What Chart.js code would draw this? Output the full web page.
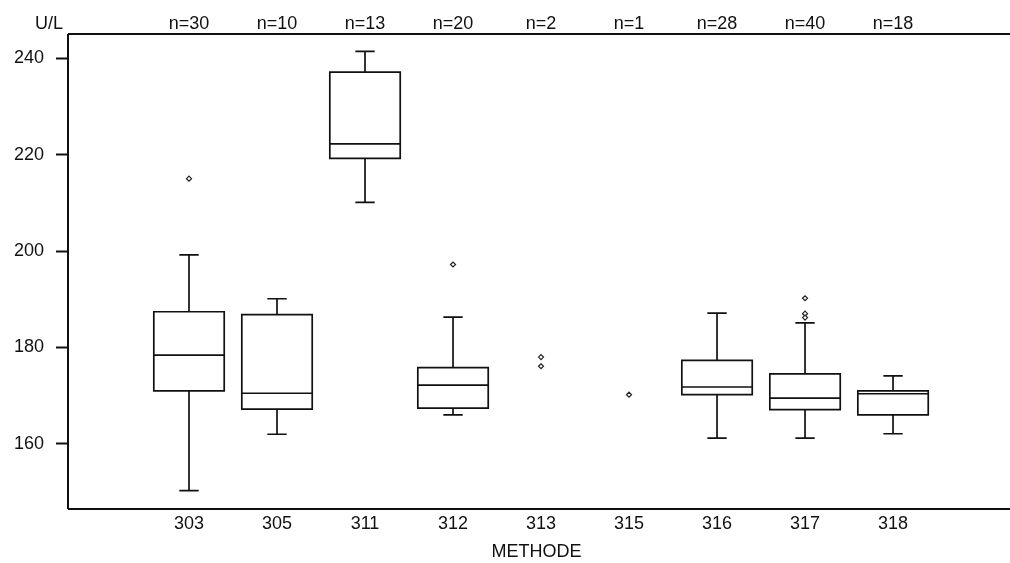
<!DOCTYPE html>
<html>
<head>
<meta charset="utf-8">
<script src="https://cdn.jsdelivr.net/npm/chart.js@4"></script>
<style>
  html, body { margin: 0; padding: 0; background: #fff; }
  #wrap { width: 1010px; height: 563px; }
</style>
</head>
<body>
<div id="wrap"><canvas id="boxChart" width="1010" height="563"></canvas></div>
<script>
// Box plot data
const categories = ['303', '305', '311', '312', '313', '315', '316', '317', '318'];
const counts = [30, 10, 13, 20, 2, 1, 28, 40, 18];
const whiskerLow  = [150.3, 162.0, 210.1, 166.0, null, null, 161.2, 161.2, 162.1];
const q1          = [171.0, 167.2, 219.2, 167.4, null, null, 170.2, 167.1, 166.0];
const median      = [178.4, 170.5, 222.2, 172.2, null, null, 171.8, 169.5, 170.4];
const q3          = [187.4, 186.8, 237.1, 175.8, null, null, 177.3, 174.5, 171.0];
const whiskerHigh = [199.2, 190.1, 241.4, 186.3, null, null, 187.1, 185.1, 174.1];
const outlierCat = ['303', '312', '313', '313', '315', '317', '317', '317'];
const outlierVal = [215.0, 197.2, 178.0, 176.1, 170.2, 190.2, 187.0, 186.2];
const yTicks = [160, 180, 200, 220, 240];

const FONT = { family: 'Liberation Sans, Arial, sans-serif', size: 18 };
const INK = '#111';

// no extra side padding from tick labels, so the frame sits where it should
const noPad = s => { s.paddingLeft = 0; s.paddingRight = 0; };

// draws boxes, medians and whiskers from the arrays above via the scales
const boxPlugin = {
  id: 'boxes',
  afterDatasetsDraw(chart) {
    const { ctx, scales: { x, y } } = chart;
    const half = 0.4, cap = 0.11;
    ctx.save();
    ctx.strokeStyle = INK;
    ctx.lineWidth = 1.7;
    categories.forEach((c, i) => {
      if (q1[i] == null) return;
      const cx = x.getPixelForValue(i);
      const l = x.getPixelForValue(i - half), r = x.getPixelForValue(i + half);
      const cl = x.getPixelForValue(i - cap), cr = x.getPixelForValue(i + cap);
      const yq1 = y.getPixelForValue(q1[i]), yq3 = y.getPixelForValue(q3[i]);
      const ym = y.getPixelForValue(median[i]);
      const ylo = y.getPixelForValue(whiskerLow[i]), yhi = y.getPixelForValue(whiskerHigh[i]);
      ctx.beginPath();
      ctx.rect(l, yq3, r - l, yq1 - yq3);
      ctx.moveTo(l, ym); ctx.lineTo(r, ym);
      ctx.moveTo(cx, yq3); ctx.lineTo(cx, yhi);
      ctx.moveTo(cl, yhi); ctx.lineTo(cr, yhi);
      ctx.moveTo(cx, yq1); ctx.lineTo(cx, ylo);
      ctx.moveTo(cl, ylo); ctx.lineTo(cr, ylo);
      ctx.stroke();
    });
    // frame: top and bottom lines run to the right edge, left axis line
    const a = chart.chartArea;
    ctx.lineWidth = 2;
    ctx.beginPath();
    ctx.moveTo(a.left, a.top); ctx.lineTo(chart.width, a.top);
    ctx.moveTo(a.left, a.bottom); ctx.lineTo(chart.width, a.bottom);
    ctx.moveTo(a.left, a.top); ctx.lineTo(a.left, a.bottom);
    ctx.stroke();
    // unit label
    ctx.fillStyle = INK;
    ctx.font = FONT.size + 'px ' + FONT.family;
    ctx.textAlign = 'left';
    ctx.textBaseline = 'middle';
    ctx.fillText('U/L', 35, 24);
    ctx.restore();
  }
};

new Chart(document.getElementById('boxChart'), {
  type: 'scatter',
  data: {
    datasets: [{
      label: 'Ausreißer',
      data: outlierCat.map((c, k) => ({ x: categories.indexOf(c), y: outlierVal[k] })),
      pointStyle: 'rectRot',
      pointRadius: 2.5,
      pointBorderWidth: 1.2,
      borderColor: '#222',
      backgroundColor: '#fff'
    }]
  },
  plugins: [boxPlugin],
  options: {
    responsive: false,
    animation: false,
    layout: { padding: 0 },
    plugins: { legend: { display: false }, tooltip: { enabled: false } },
    scales: {
      x: {
        type: 'linear',
        position: 'bottom',
        min: -1.375,
        max: 9.27,
        afterBuildTicks: s => { s.ticks = categories.map((c, i) => ({ value: i })); },
        afterFit: s => { s.height = 54; noPad(s); },
        ticks: {
          color: INK, font: FONT, padding: 4, maxRotation: 0, autoSkip: false,
          callback: v => categories[v]
        },
        grid: { display: false, drawTicks: false },
        border: { display: false },
        title: { display: true, text: 'METHODE', color: INK, font: FONT, padding: { top: 3, bottom: 0 } }
      },
      xTop: {
        type: 'linear',
        position: 'top',
        min: -1.375,
        max: 9.27,
        afterBuildTicks: s => { s.ticks = categories.map((c, i) => ({ value: i })); },
        afterFit: s => { s.height = 34; noPad(s); },
        ticks: {
          color: INK, font: FONT, padding: -1, maxRotation: 0, autoSkip: false,
          callback: v => 'n=' + counts[v]
        },
        grid: { display: false, drawTicks: false },
        border: { display: false }
      },
      y: {
        min: 146.5,
        max: 245,
        afterBuildTicks: s => { s.ticks = yTicks.map(v => ({ value: v })); },
        afterFit: s => { s.width = 68; s.paddingTop = 0; s.paddingBottom = 0; },
        ticks: { color: INK, font: FONT, padding: 12 },
        grid: { drawOnChartArea: false, drawTicks: true, tickLength: 12, color: INK, tickWidth: 2 },
        border: { display: false }
      }
    }
  }
});
</script>
</body>
</html>
